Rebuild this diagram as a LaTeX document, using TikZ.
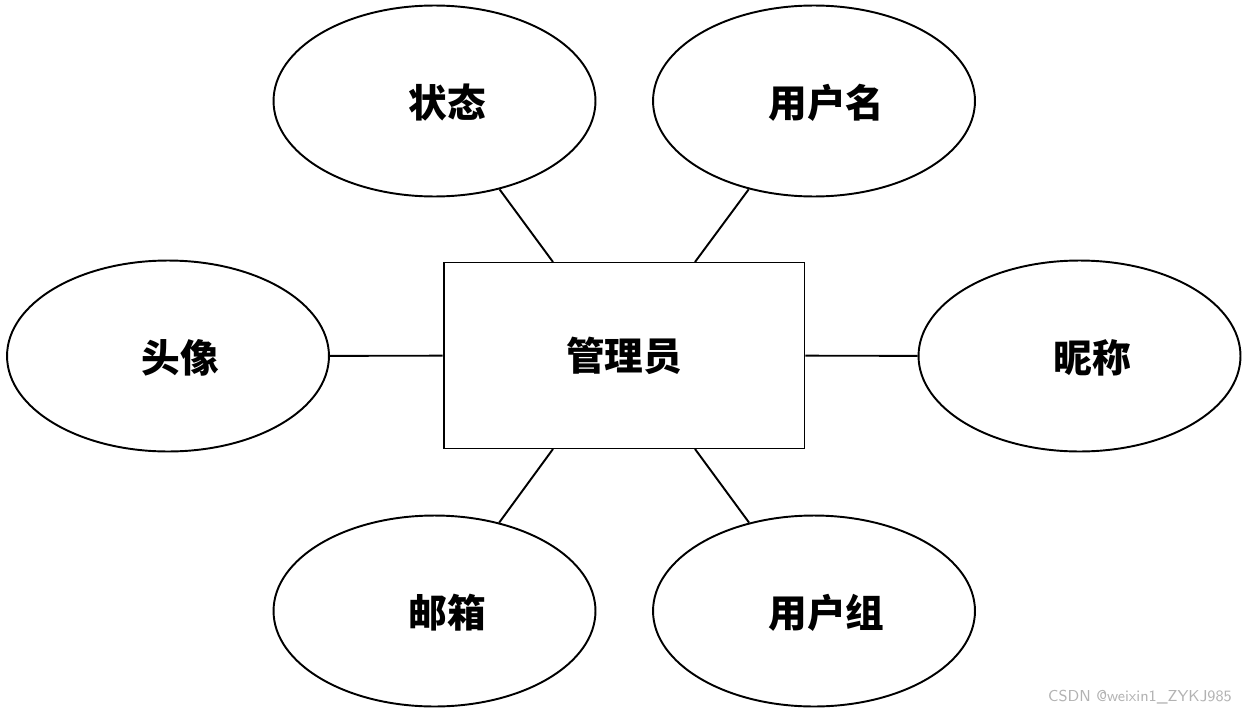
\documentclass[tikz,border=0pt]{standalone}
\usepackage{fontspec}
\newfontfamily\cjk{Noto Sans CJK SC}
\usetikzlibrary{shapes.geometric,positioning}
\tikzset{
  attr/.style={ellipse,draw,line width=1.1pt,minimum width=6.44cm,minimum height=3.82cm,font=\cjk\bfseries\fontsize{22}{24}\selectfont},
  ent/.style={rectangle,draw,line width=1.1pt,minimum width=7.22cm,minimum height=3.72cm,font=\cjk\bfseries\fontsize{22}{24}\selectfont},
  link/.style={line width=1.1pt},
  shifted/.style={text depth=0pt,execute at begin node=\hspace*{0.5cm}}
}
\begin{document}
\begin{tikzpicture}[x=0.02cm,y=-0.02cm]
\useasboundingbox (0,0) rectangle (1246,713);

% Entity
\node[ent] (admin) at (624,355.5) {管理员};

% Attributes
\node[attr,shifted] (state) at (434.5,101) {状态};
\node[attr,shifted] (uname) at (814,101) {用户名};
\node[attr,shifted] (avatar) at (168,356) {头像};
\node[attr,shifted] (nick) at (1079.5,356) {昵称};
\node[attr,shifted] (mail) at (434.5,611) {邮箱};
\node[attr,shifted] (group) at (814,611) {用户组};

% Anchors on the entity
\coordinate (tl) at (553,262);
\coordinate (tr) at (695,262);
\coordinate (bl) at (553,449);
\coordinate (br) at (695,449);

% Links
\draw[link] (state) -- (tl);
\draw[link] (uname) -- (tr);
\draw[link] (mail) -- (bl);
\draw[link] (group) -- (br);
\draw[link] (avatar) -- (admin);
\draw[link] (nick) -- (admin);

% Watermark
\node[gray!60,font=\sffamily\small,anchor=east] (mark) at (1238,697) {CSDN @weixin1\_ZYKJ985};
\end{tikzpicture}
\end{document}
